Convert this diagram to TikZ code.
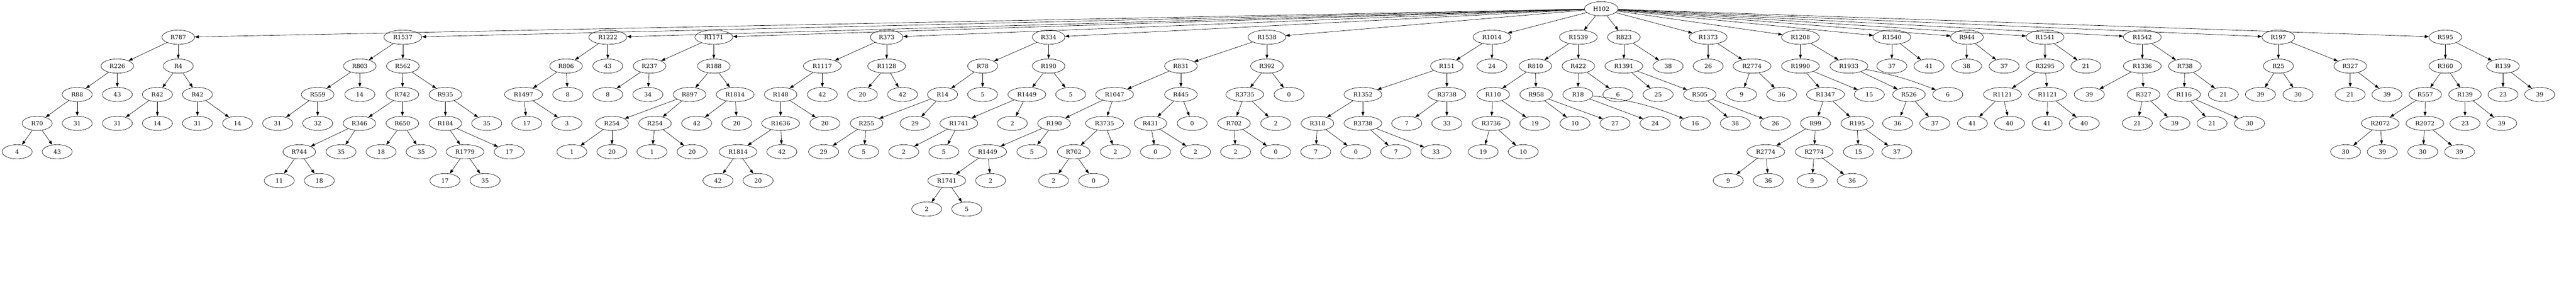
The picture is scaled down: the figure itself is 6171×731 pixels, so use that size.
\documentclass[tikz,border=0pt]{standalone}
\usepackage{fontspec}
\setmainfont{DejaVu Serif}
\usetikzlibrary{shapes.geometric,arrows.meta}
\begin{document}
\begin{tikzpicture}[
        x=1pt, y=-1pt,
        thick,
        font=\fontsize{14}{16}\selectfont
    ]
    \tikzset{
        treenode/.style = {ellipse, draw=black, align=center, fill=white,
            minimum width=72pt, minimum height=34pt, inner xsep=9pt, inner ysep=0pt},
        edgea/.style = {-{Triangle[length=10pt,width=7pt]}},
    }
    \useasboundingbox (0,0) rectangle (6171,731);
    % root and first row
    \node[treenode] at (3836,21) (h102) {H102};
    \node[treenode] at (427,89) (r787) {R787};
    \node[treenode] at (965,89) (r1537) {R1537};
    \node[treenode] at (1456,89) (r1222) {R1222};
    \node[treenode] at (1710,89) (r1171) {R1171};
    \node[treenode] at (2124,89) (r373) {R373};
    \node[treenode] at (2512,89) (r334) {R334};
    \node[treenode] at (3035,89) (r1538) {R1538};
    \node[treenode] at (3574,89) (r1014) {R1014};
    \node[treenode] at (3781,89) (r1539) {R1539};
    \node[treenode] at (3890,89) (r823) {R823};
    \node[treenode] at (4092,89) (r1373) {R1373};
    \node[treenode] at (4313,89) (r1208) {R1208};
    \node[treenode] at (4532,89) (r1540) {R1540};
    \node[treenode] at (4712,89) (r944) {R944};
    \node[treenode] at (4899,89) (r1541) {R1541};
    \node[treenode] at (5132,89) (r1542) {R1542};
    \node[treenode] at (5458,89) (r197) {R197};
    \node[treenode] at (5858,89) (r595) {R595};
    %
    \node[treenode] at (281,158) (r226) {R226};
    \node[treenode] at (427,158) (r4) {R4};
    \node[treenode] at (185,226) (r88) {R88};
    \node[treenode] at (281,226) (n43a) {43};
    \node[treenode] at (377,226) (r42a) {R42};
    \node[treenode] at (473,226) (r42b) {R42};
    \node[treenode] at (89,295) (r70) {R70};
    \node[treenode] at (185,295) (n31a) {31};
    \node[treenode] at (281,295) (n31b) {31};
    \node[treenode] at (377,295) (n14a) {14};
    \node[treenode] at (473,295) (n31c) {31};
    \node[treenode] at (569,295) (n14b) {14};
    \node[treenode] at (41,363) (n4) {4};
    \node[treenode] at (137,363) (n43b) {43};
    %
    \node[treenode] at (862,158) (r803) {R803};
    \node[treenode] at (965,158) (r562) {R562};
    \node[treenode] at (761,226) (r559) {R559};
    \node[treenode] at (862,226) (n14c) {14};
    \node[treenode] at (964,226) (r742) {R742};
    \node[treenode] at (1067,226) (r935) {R935};
    \node[treenode] at (665,295) (n31d) {31};
    \node[treenode] at (761,295) (n32a) {32};
    \node[treenode] at (861,295) (r346) {R346};
    \node[treenode] at (964,295) (r650) {R650};
    \node[treenode] at (1067,295) (r184) {R184};
    \node[treenode] at (1166,295) (n35a) {35};
    \node[treenode] at (717,363) (r744) {R744};
    \node[treenode] at (817,363) (n35b) {35};
    \node[treenode] at (913,363) (n18a) {18};
    \node[treenode] at (1009,363) (n35c) {35};
    \node[treenode] at (1114,363) (r1779) {R1779};
    \node[treenode] at (1220,363) (n17a) {17};
    \node[treenode] at (669,432) (n11a) {11};
    \node[treenode] at (765,432) (n18b) {18};
    \node[treenode] at (1066,432) (n17b) {17};
    \node[treenode] at (1162,432) (n35d) {35};
    %
    \node[treenode] at (1356,158) (r806) {R806};
    \node[treenode] at (1456,158) (n43c) {43};
    \node[treenode] at (1254,226) (r1497) {R1497};
    \node[treenode] at (1360,226) (n8a) {8};
    \node[treenode] at (1262,295) (n17c) {17};
    \node[treenode] at (1358,295) (n3a) {3};
    %
    \node[treenode] at (1556,158) (r237) {R237};
    \node[treenode] at (1710,158) (r188) {R188};
    \node[treenode] at (1456,226) (n8b) {8};
    \node[treenode] at (1552,226) (n34a) {34};
    \node[treenode] at (1652,226) (r897) {R897};
    \node[treenode] at (1761,226) (r1814a) {R1814};
    \node[treenode] at (1466,295) (r254a) {R254};
    \node[treenode] at (1569,295) (r254b) {R254};
    \node[treenode] at (1669,295) (n42a) {42};
    \node[treenode] at (1765,295) (n20a) {20};
    \node[treenode] at (1370,363) (n1a) {1};
    \node[treenode] at (1466,363) (n20b) {20};
    \node[treenode] at (1562,363) (n1b) {1};
    \node[treenode] at (1658,363) (n20c) {20};
    %
    \node[treenode] at (1970,158) (r1117) {R1117};
    \node[treenode] at (2124,158) (r1128) {R1128};
    \node[treenode] at (1870,226) (r148) {R148};
    \node[treenode] at (1970,226) (n42b) {42};
    \node[treenode] at (2066,226) (n20d) {20};
    \node[treenode] at (2162,226) (n42c) {42};
    \node[treenode] at (1870,295) (r1636) {R1636};
    \node[treenode] at (1976,295) (n20e) {20};
    \node[treenode] at (1768,363) (r1814b) {R1814};
    \node[treenode] at (1873,363) (n42d) {42};
    \node[treenode] at (1720,432) (n42e) {42};
    \node[treenode] at (1816,432) (n20f) {20};
    %
    \node[treenode] at (2354,158) (r78) {R78};
    \node[treenode] at (2512,158) (r190a) {R190};
    \node[treenode] at (2258,226) (r14) {R14};
    \node[treenode] at (2354,226) (n5a) {5};
    \node[treenode] at (2460,226) (r1449a) {R1449};
    \node[treenode] at (2565,226) (n5b) {5};
    \node[treenode] at (2076,295) (r255) {R255};
    \node[treenode] at (2192,295) (n29a) {29};
    \node[treenode] at (2297,295) (r1741a) {R1741};
    \node[treenode] at (2425,295) (n2a) {2};
    \node[treenode] at (1973,363) (n29b) {29};
    \node[treenode] at (2069,363) (n5c) {5};
    \node[treenode] at (2165,363) (n2b) {2};
    \node[treenode] at (2261,363) (n5d) {5};
    %
    \node[treenode] at (2829,158) (r831) {R831};
    \node[treenode] at (3035,158) (r392) {R392};
    \node[treenode] at (2670,226) (r1047) {R1047};
    \node[treenode] at (2829,226) (r445) {R445};
    \node[treenode] at (2982,226) (r3735a) {R3735};
    \node[treenode] at (3088,226) (n0a) {0};
    \node[treenode] at (2525,295) (r190b) {R190};
    \node[treenode] at (2646,295) (r3735b) {R3735};
    \node[treenode] at (2756,295) (r431) {R431};
    \node[treenode] at (2856,295) (n0b) {0};
    \node[treenode] at (2956,295) (r702a) {R702};
    \node[treenode] at (3056,295) (n2c) {2};
    \node[treenode] at (2366,363) (r1449b) {R1449};
    \node[treenode] at (2472,363) (n5e) {5};
    \node[treenode] at (2572,363) (r702b) {R702};
    \node[treenode] at (2672,363) (n2d) {2};
    \node[treenode] at (2768,363) (n0c) {0};
    \node[treenode] at (2864,363) (n2e) {2};
    \node[treenode] at (2960,363) (n2f) {2};
    \node[treenode] at (3056,363) (n0d) {0};
    \node[treenode] at (2268,432) (r1741b) {R1741};
    \node[treenode] at (2373,432) (n2g) {2};
    \node[treenode] at (2524,432) (n2h) {2};
    \node[treenode] at (2620,432) (n0e) {0};
    \node[treenode] at (2220,500) (n2i) {2};
    \node[treenode] at (2316,500) (n5f) {5};
    %
    \node[treenode] at (3466,158) (r151) {R151};
    \node[treenode] at (3574,158) (n24a) {24};
    \node[treenode] at (3265,226) (r1352) {R1352};
    \node[treenode] at (3466,226) (r3738a) {R3738};
    \node[treenode] at (3156,295) (r318) {R318};
    \node[treenode] at (3265,295) (r3738b) {R3738};
    \node[treenode] at (3370,295) (n7a) {7};
    \node[treenode] at (3466,295) (n33a) {33};
    \node[treenode] at (3152,363) (n7b) {7};
    \node[treenode] at (3248,363) (n0f) {0};
    \node[treenode] at (3344,363) (n7c) {7};
    \node[treenode] at (3440,363) (n33b) {33};
    %
    \node[treenode] at (3678,158) (r810) {R810};
    \node[treenode] at (3781,158) (r422) {R422};
    \node[treenode] at (3577,226) (r110) {R110};
    \node[treenode] at (3680,226) (r958) {R958};
    \node[treenode] at (3780,226) (r18) {R18};
    \node[treenode] at (3876,226) (n6a) {6};
    \node[treenode] at (3572,295) (r3736) {R3736};
    \node[treenode] at (3677,295) (n19a) {19};
    \node[treenode] at (3773,295) (n10a) {10};
    \node[treenode] at (3869,295) (n27a) {27};
    \node[treenode] at (3965,295) (n24b) {24};
    \node[treenode] at (4061,295) (n16a) {16};
    \node[treenode] at (3553,363) (n19b) {19};
    \node[treenode] at (3649,363) (n10b) {10};
    %
    \node[treenode] at (3890,158) (r1391) {R1391};
    \node[treenode] at (3996,158) (n38a) {38};
    \node[treenode] at (3972,226) (n25a) {25};
    \node[treenode] at (4072,226) (r505) {R505};
    \node[treenode] at (4157,295) (n38b) {38};
    \node[treenode] at (4253,295) (n26a) {26};
    %
    \node[treenode] at (4092,158) (n26b) {26};
    \node[treenode] at (4197,158) (r2774a) {R2774};
    \node[treenode] at (4172,226) (n9a) {9};
    \node[treenode] at (4268,226) (n36a) {36};
    %
    \node[treenode] at (4313,158) (r1990) {R1990};
    \node[treenode] at (4429,158) (r1933) {R1933};
    \node[treenode] at (4373,226) (r1347) {R1347};
    \node[treenode] at (4478,226) (n15a) {15};
    \node[treenode] at (4573,226) (r526) {R526};
    \node[treenode] at (4666,226) (n6b) {6};
    \node[treenode] at (4349,295) (r99) {R99};
    \node[treenode] at (4449,295) (r195) {R195};
    \node[treenode] at (4546,295) (n36b) {36};
    \node[treenode] at (4635,295) (n37a) {37};
    \node[treenode] at (4230,363) (r2774b) {R2774};
    \node[treenode] at (4346,363) (r2774c) {R2774};
    \node[treenode] at (4452,363) (n15b) {15};
    \node[treenode] at (4544,363) (n37b) {37};
    \node[treenode] at (4140,432) (n9b) {9};
    \node[treenode] at (4236,432) (n36c) {36};
    \node[treenode] at (4341,432) (n9c) {9};
    \node[treenode] at (4437,432) (n36d) {36};
    %
    \node[treenode] at (4532,158) (n37c) {37};
    \node[treenode] at (4621,158) (n41a) {41};
    \node[treenode] at (4711,158) (n38c) {38};
    \node[treenode] at (4801,158) (n37d) {37};
    \node[treenode] at (4899,158) (r3295) {R3295};
    \node[treenode] at (4997,158) (n21a) {21};
    \node[treenode] at (4797,226) (r1121a) {R1121};
    \node[treenode] at (4905,226) (r1121b) {R1121};
    \node[treenode] at (4725,295) (n41b) {41};
    \node[treenode] at (4814,295) (n40a) {40};
    \node[treenode] at (4904,295) (n41c) {41};
    \node[treenode] at (4993,295) (n40b) {40};
    %
    \node[treenode] at (5132,158) (r1336) {R1336};
    \node[treenode] at (5234,158) (r738) {R738};
    \node[treenode] at (5005,226) (n39a) {39};
    \node[treenode] at (5135,226) (r327a) {R327};
    \node[treenode] at (5232,226) (r116) {R116};
    \node[treenode] at (5326,226) (n21b) {21};
    \node[treenode] at (5120,295) (n21c) {21};
    \node[treenode] at (5210,295) (n39b) {39};
    \node[treenode] at (5299,295) (n21d) {21};
    \node[treenode] at (5389,295) (n30a) {30};
    %
    \node[treenode] at (5458,158) (r25) {R25};
    \node[treenode] at (5630,158) (r327b) {R327};
    \node[treenode] at (5415,226) (n39c) {39};
    \node[treenode] at (5505,226) (n30b) {30};
    \node[treenode] at (5630,226) (n21e) {21};
    \node[treenode] at (5718,226) (n39d) {39};
    %
    \node[treenode] at (5858,158) (r360) {R360};
    \node[treenode] at (5996,158) (r139a) {R139};
    \node[treenode] at (5810,226) (r557) {R557};
    \node[treenode] at (5905,226) (r139b) {R139};
    \node[treenode] at (5996,226) (n23a) {23};
    \node[treenode] at (6084,226) (n39e) {39};
    \node[treenode] at (5702,295) (r2072a) {R2072};
    \node[treenode] at (5809,295) (r2072b) {R2072};
    \node[treenode] at (5905,295) (n23b) {23};
    \node[treenode] at (5993,295) (n39f) {39};
    \node[treenode] at (5619,363) (n30c) {30};
    \node[treenode] at (5707,363) (n39g) {39};
    \node[treenode] at (5804,363) (n30d) {30};
    \node[treenode] at (5892,363) (n39h) {39};
    %
    \draw[edgea] (h102) edge (r787);
    \draw[edgea] (h102) edge (r1537);
    \draw[edgea] (h102) edge (r1222);
    \draw[edgea] (h102) edge (r1171);
    \draw[edgea] (h102) edge (r373);
    \draw[edgea] (h102) edge (r334);
    \draw[edgea] (h102) edge (r1538);
    \draw[edgea] (h102) edge (r1014);
    \draw[edgea] (h102) edge (r1539);
    \draw[edgea] (h102) edge (r823);
    \draw[edgea] (h102) edge (r1373);
    \draw[edgea] (h102) edge (r1208);
    \draw[edgea] (h102) edge (r1540);
    \draw[edgea] (h102) edge (r944);
    \draw[edgea] (h102) edge (r1541);
    \draw[edgea] (h102) edge (r1542);
    \draw[edgea] (h102) edge (r197);
    \draw[edgea] (h102) edge (r595);
    %
    \draw[edgea] (r787) edge (r226);
    \draw[edgea] (r787) edge (r4);
    \draw[edgea] (r226) edge (r88);
    \draw[edgea] (r226) edge (n43a);
    \draw[edgea] (r4) edge (r42a);
    \draw[edgea] (r4) edge (r42b);
    \draw[edgea] (r88) edge (r70);
    \draw[edgea] (r88) edge (n31a);
    \draw[edgea] (r42a) edge (n31b);
    \draw[edgea] (r42a) edge (n14a);
    \draw[edgea] (r42b) edge (n31c);
    \draw[edgea] (r42b) edge (n14b);
    \draw[edgea] (r70) edge (n4);
    \draw[edgea] (r70) edge (n43b);
    %
    \draw[edgea] (r1537) edge (r803);
    \draw[edgea] (r1537) edge (r562);
    \draw[edgea] (r803) edge (r559);
    \draw[edgea] (r803) edge (n14c);
    \draw[edgea] (r559) edge (n31d);
    \draw[edgea] (r559) edge (n32a);
    \draw[edgea] (r562) edge (r742);
    \draw[edgea] (r562) edge (r935);
    \draw[edgea] (r742) edge (r346);
    \draw[edgea] (r742) edge (r650);
    \draw[edgea] (r346) edge (r744);
    \draw[edgea] (r346) edge (n35b);
    \draw[edgea] (r650) edge (n18a);
    \draw[edgea] (r650) edge (n35c);
    \draw[edgea] (r744) edge (n11a);
    \draw[edgea] (r744) edge (n18b);
    \draw[edgea] (r935) edge (r184);
    \draw[edgea] (r935) edge (n35a);
    \draw[edgea] (r184) edge (r1779);
    \draw[edgea] (r184) edge (n17a);
    \draw[edgea] (r1779) edge (n17b);
    \draw[edgea] (r1779) edge (n35d);
    %
    \draw[edgea] (r1222) edge (r806);
    \draw[edgea] (r1222) edge (n43c);
    \draw[edgea] (r806) edge (r1497);
    \draw[edgea] (r806) edge (n8a);
    \draw[edgea] (r1497) edge (n17c);
    \draw[edgea] (r1497) edge (n3a);
    %
    \draw[edgea] (r1171) edge (r237);
    \draw[edgea] (r1171) edge (r188);
    \draw[edgea] (r237) edge (n8b);
    \draw[edgea] (r237) edge (n34a);
    \draw[edgea] (r188) edge (r897);
    \draw[edgea] (r188) edge (r1814a);
    \draw[edgea] (r897) edge (r254a);
    \draw[edgea] (r897) edge (r254b);
    \draw[edgea] (r1814a) edge (n42a);
    \draw[edgea] (r1814a) edge (n20a);
    \draw[edgea] (r254a) edge (n1a);
    \draw[edgea] (r254a) edge (n20b);
    \draw[edgea] (r254b) edge (n1b);
    \draw[edgea] (r254b) edge (n20c);
    %
    \draw[edgea] (r373) edge (r1117);
    \draw[edgea] (r373) edge (r1128);
    \draw[edgea] (r1117) edge (r148);
    \draw[edgea] (r1117) edge (n42b);
    \draw[edgea] (r1128) edge (n20d);
    \draw[edgea] (r1128) edge (n42c);
    \draw[edgea] (r148) edge (r1636);
    \draw[edgea] (r148) edge (n20e);
    \draw[edgea] (r1636) edge (r1814b);
    \draw[edgea] (r1636) edge (n42d);
    \draw[edgea] (r1814b) edge (n42e);
    \draw[edgea] (r1814b) edge (n20f);
    %
    \draw[edgea] (r334) edge (r78);
    \draw[edgea] (r334) edge (r190a);
    \draw[edgea] (r78) edge (r14);
    \draw[edgea] (r78) edge (n5a);
    \draw[edgea] (r14) edge (r255);
    \draw[edgea] (r14) edge (n29a);
    \draw[edgea] (r255) edge (n29b);
    \draw[edgea] (r255) edge (n5c);
    \draw[edgea] (r190a) edge (r1449a);
    \draw[edgea] (r190a) edge (n5b);
    \draw[edgea] (r1449a) edge (r1741a);
    \draw[edgea] (r1449a) edge (n2a);
    \draw[edgea] (r1741a) edge (n2b);
    \draw[edgea] (r1741a) edge (n5d);
    %
    \draw[edgea] (r1538) edge (r831);
    \draw[edgea] (r1538) edge (r392);
    \draw[edgea] (r831) edge (r1047);
    \draw[edgea] (r831) edge (r445);
    \draw[edgea] (r1047) edge (r190b);
    \draw[edgea] (r1047) edge (r3735b);
    \draw[edgea] (r190b) edge (r1449b);
    \draw[edgea] (r190b) edge (n5e);
    \draw[edgea] (r1449b) edge (r1741b);
    \draw[edgea] (r1449b) edge (n2g);
    \draw[edgea] (r1741b) edge (n2i);
    \draw[edgea] (r1741b) edge (n5f);
    \draw[edgea] (r3735b) edge (r702b);
    \draw[edgea] (r3735b) edge (n2d);
    \draw[edgea] (r702b) edge (n2h);
    \draw[edgea] (r702b) edge (n0e);
    \draw[edgea] (r445) edge (r431);
    \draw[edgea] (r445) edge (n0b);
    \draw[edgea] (r431) edge (n0c);
    \draw[edgea] (r431) edge (n2e);
    \draw[edgea] (r392) edge (r3735a);
    \draw[edgea] (r392) edge (n0a);
    \draw[edgea] (r3735a) edge (r702a);
    \draw[edgea] (r3735a) edge (n2c);
    \draw[edgea] (r702a) edge (n2f);
    \draw[edgea] (r702a) edge (n0d);
    %
    \draw[edgea] (r1014) edge (r151);
    \draw[edgea] (r1014) edge (n24a);
    \draw[edgea] (r151) edge (r1352);
    \draw[edgea] (r151) edge (r3738a);
    \draw[edgea] (r1352) edge (r318);
    \draw[edgea] (r1352) edge (r3738b);
    \draw[edgea] (r318) edge (n7b);
    \draw[edgea] (r318) edge (n0f);
    \draw[edgea] (r3738b) edge (n7c);
    \draw[edgea] (r3738b) edge (n33b);
    \draw[edgea] (r3738a) edge (n7a);
    \draw[edgea] (r3738a) edge (n33a);
    %
    \draw[edgea] (r1539) edge (r810);
    \draw[edgea] (r1539) edge (r422);
    \draw[edgea] (r810) edge (r110);
    \draw[edgea] (r810) edge (r958);
    \draw[edgea] (r110) edge (r3736);
    \draw[edgea] (r110) edge (n19a);
    \draw[edgea] (r3736) edge (n19b);
    \draw[edgea] (r3736) edge (n10b);
    \draw[edgea] (r958) edge (n10a);
    \draw[edgea] (r958) edge (n27a);
    \draw[edgea] (r422) edge (r18);
    \draw[edgea] (r422) edge (n6a);
    \draw[edgea] (r18) edge (n24b);
    \draw[edgea] (r18) edge[bend left=8] (n16a);
    %
    \draw[edgea] (r823) edge (r1391);
    \draw[edgea] (r823) edge (n38a);
    \draw[edgea] (r1391) edge (n25a);
    \draw[edgea] (r1391) edge (r505);
    \draw[edgea] (r505) edge (n38b);
    \draw[edgea] (r505) edge (n26a);
    %
    \draw[edgea] (r1373) edge (n26b);
    \draw[edgea] (r1373) edge (r2774a);
    \draw[edgea] (r2774a) edge (n9a);
    \draw[edgea] (r2774a) edge (n36a);
    %
    \draw[edgea] (r1208) edge (r1990);
    \draw[edgea] (r1208) edge (r1933);
    \draw[edgea] (r1990) edge (r1347);
    \draw[edgea] (r1990) edge (n15a);
    \draw[edgea] (r1347) edge (r99);
    \draw[edgea] (r1347) edge (r195);
    \draw[edgea] (r99) edge (r2774b);
    \draw[edgea] (r99) edge (r2774c);
    \draw[edgea] (r195) edge (n15b);
    \draw[edgea] (r195) edge (n37b);
    \draw[edgea] (r2774b) edge (n9b);
    \draw[edgea] (r2774b) edge (n36c);
    \draw[edgea] (r2774c) edge (n9c);
    \draw[edgea] (r2774c) edge (n36d);
    \draw[edgea] (r1933) edge (r526);
    \draw[edgea] (r1933) edge[bend left=5] (n6b);
    \draw[edgea] (r526) edge (n36b);
    \draw[edgea] (r526) edge (n37a);
    %
    \draw[edgea] (r1540) edge (n37c);
    \draw[edgea] (r1540) edge (n41a);
    \draw[edgea] (r944) edge (n38c);
    \draw[edgea] (r944) edge (n37d);
    \draw[edgea] (r1541) edge (r3295);
    \draw[edgea] (r1541) edge (n21a);
    \draw[edgea] (r3295) edge (r1121a);
    \draw[edgea] (r3295) edge (r1121b);
    \draw[edgea] (r1121a) edge (n41b);
    \draw[edgea] (r1121a) edge (n40a);
    \draw[edgea] (r1121b) edge (n41c);
    \draw[edgea] (r1121b) edge (n40b);
    %
    \draw[edgea] (r1542) edge (r1336);
    \draw[edgea] (r1542) edge (r738);
    \draw[edgea] (r1336) edge (n39a);
    \draw[edgea] (r1336) edge (r327a);
    \draw[edgea] (r327a) edge (n21c);
    \draw[edgea] (r327a) edge (n39b);
    \draw[edgea] (r738) edge (r116);
    \draw[edgea] (r738) edge (n21b);
    \draw[edgea] (r116) edge (n21d);
    \draw[edgea] (r116) edge (n30a);
    %
    \draw[edgea] (r197) edge (r25);
    \draw[edgea] (r197) edge (r327b);
    \draw[edgea] (r25) edge (n39c);
    \draw[edgea] (r25) edge (n30b);
    \draw[edgea] (r327b) edge (n21e);
    \draw[edgea] (r327b) edge (n39d);
    %
    \draw[edgea] (r595) edge (r360);
    \draw[edgea] (r595) edge (r139a);
    \draw[edgea] (r360) edge (r557);
    \draw[edgea] (r360) edge (r139b);
    \draw[edgea] (r139a) edge (n23a);
    \draw[edgea] (r139a) edge (n39e);
    \draw[edgea] (r557) edge (r2072a);
    \draw[edgea] (r557) edge (r2072b);
    \draw[edgea] (r139b) edge (n23b);
    \draw[edgea] (r139b) edge (n39f);
    \draw[edgea] (r2072a) edge (n30c);
    \draw[edgea] (r2072a) edge (n39g);
    \draw[edgea] (r2072b) edge (n30d);
    \draw[edgea] (r2072b) edge (n39h);
\end{tikzpicture}
\end{document}
